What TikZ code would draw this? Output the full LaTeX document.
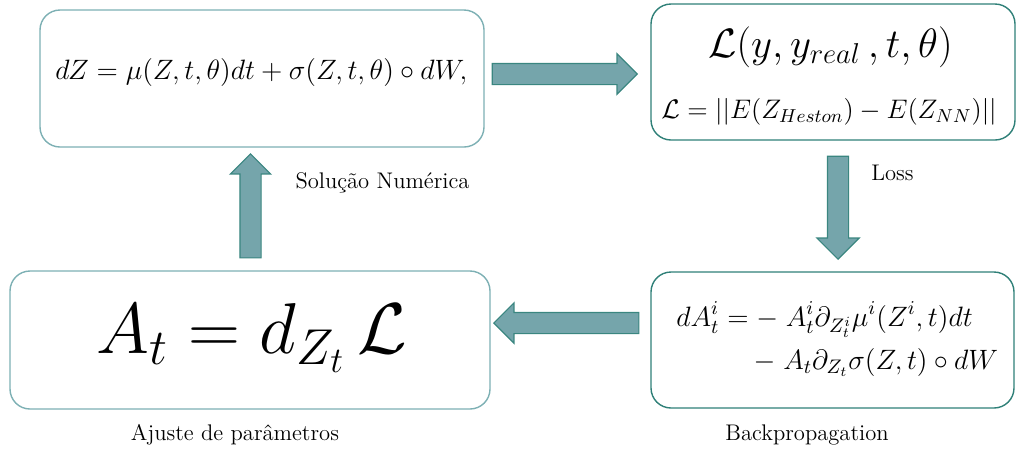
\RequirePackage{fix-cm}
\documentclass[tikz,border=0pt]{standalone}
\usepackage{amsmath}
\usetikzlibrary{shapes.arrows}
\definecolor{frame}{HTML}{7DB0B4}
\definecolor{framedark}{HTML}{2F8078}
\definecolor{arrfill}{HTML}{75A5AB}
\definecolor{arrdraw}{HTML}{3A8680}
\tikzset{
  box/.style={draw=frame,line width=0.7pt,rounded corners=10pt,fill=white,inner sep=0pt},
  darkbox/.style={box,draw=framedark},
  eq/.style={inner sep=0pt,anchor=west},
  note/.style={font=\fontsize{11.3}{13}\selectfont,inner sep=0pt},
  blockarr/.style={single arrow,draw=arrdraw,fill=arrfill,line width=0.6pt,inner sep=0pt,
    inner ysep=5pt,single arrow head extend=4.75pt,minimum height=72.5pt,anchor=tip},
}
\begin{document}
\begin{tikzpicture}[x=0.5pt,y=-0.5pt]
  \useasboundingbox (0,0) rectangle (1016,451);
  % the four boxes
  \node[box,minimum width=222pt,minimum height=68.5pt] (sde) at (262,78.5) {};
  \node[darkbox,minimum width=182pt,minimum height=68pt] (loss) at (833,72) {};
  \node[box,minimum width=240pt,minimum height=69pt] (adj) at (250,340) {};
  \node[darkbox,minimum width=181.5pt,minimum height=68pt] (back) at (832.5,340) {};
  % formulas
  \node[eq,font=\fontsize{14}{17}\selectfont] (sdeq) at (55,72.5)
    {$dZ=\mu(Z,t,\theta)dt+\sigma(Z,t,\theta)\circ dW,$};
  \node[eq,font=\fontsize{20.5}{24}\selectfont] (lossa) at (708,47)
    {$\mathcal{L}(y,y_{real}\,,t,\theta)$};
  \node[eq,font=\fontsize{13.4}{16}\selectfont] (lossb) at (661,112)
    {$\mathcal{L}=||E(Z_{Heston})-E(Z_{NN})||$};
  \node[eq,font=\fontsize{36}{42}\selectfont] (adjeq) at (96,338)
    {$A_t=d_{Z_t}\,\mathcal{L}$};
  \node[eq,font=\fontsize{14}{17}\selectfont] (backeq) at (676,341)
    {$\begin{aligned} dA_t^i&={-}\;A_t^i\partial_{Z_t^i}\mu^i(Z^i,t)dt\\
      &\mkern22mu{-}\;A_t\partial_{Z_t}\sigma(Z,t)\circ dW\end{aligned}$};
  % block arrows
  \node[blockarr] (toloss) at (638,74) {};
  \node[blockarr,rotate=-90,minimum height=51.5pt,single arrow head extend=5.25pt] (toback) at (838,260) {};
  \node[blockarr,rotate=180] (toadj) at (493,323) {};
  \node[blockarr,rotate=90,minimum height=52pt] (tosde) at (250.5,153) {};
  % labels
  \node[note] (numlbl) at (382.5,183) {Solução Numérica};
  \node[note] (losslbl) at (892.5,173) {Loss};
  \node[note] (adjlbl) at (235,435) {Ajuste de parâmetros};
  \node[note] (backlbl) at (807,435) {Backpropagation};
\end{tikzpicture}
\end{document}
